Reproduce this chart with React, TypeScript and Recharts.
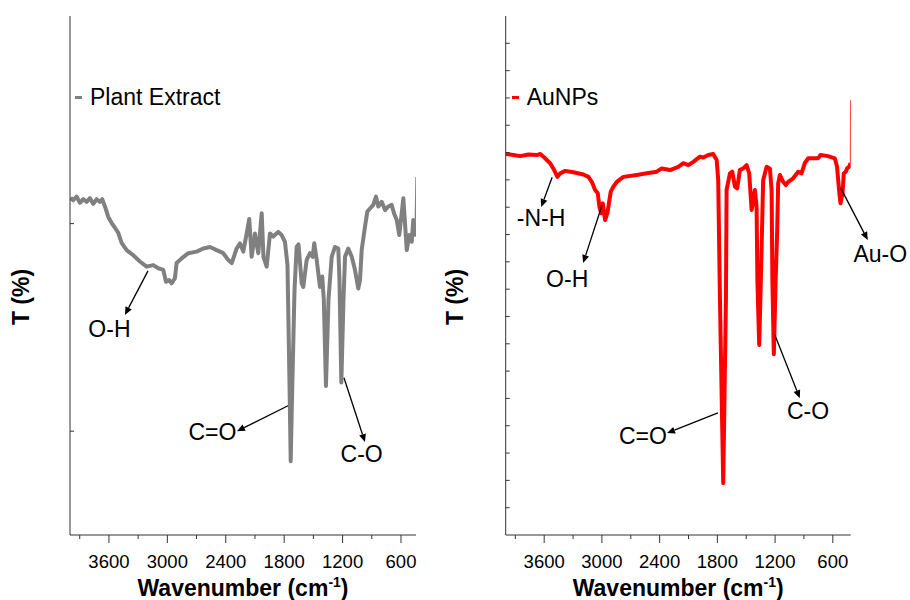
import React from 'react';
import { LineChart, Line, XAxis, YAxis, ReferenceLine, ReferenceDot, Legend } from 'recharts';

const FONT = '"Liberation Sans", Arial, Helvetica, sans-serif';
const AXIS = '#333333';

// ---------- Plant extract spectrum (wavenumber cm-1, transmittance a.u.) ----------
const extractWn = [3994, 3967, 3932, 3898, 3864, 3829, 3795, 3761, 3726, 3692, 3669, 3641, 3607, 3572, 3538, 3504, 3470, 3418, 3350, 3282, 3213, 3145, 3093, 3042, 3014, 2981, 2956, 2922, 2905, 2853, 2785, 2699, 2631, 2562, 2494, 2426, 2374, 2339, 2288, 2254, 2220, 2185, 2159, 2134, 2100, 2066, 2031, 2013, 1980, 1946, 1912, 1861, 1826, 1792, 1766, 1746, 1733, 1720, 1694, 1672, 1653, 1620, 1604, 1569, 1535, 1507, 1491, 1466, 1432, 1409, 1393, 1371, 1345, 1312, 1278, 1244, 1232, 1213, 1191, 1175, 1142, 1106, 1073, 1039, 1021, 1004, 970, 946, 918, 885, 857, 833, 798, 764, 731, 696, 672, 644, 618, 593, 576, 559, 541, 515, 490, 474, 456];
const extractT = [65.0, 64.5, 65.2, 64.0, 64.7, 64.2, 64.9, 63.8, 64.7, 64.2, 64.7, 63.3, 61.3, 60.1, 59.2, 58.2, 56.3, 54.9, 53.9, 52.7, 51.7, 52.0, 51.4, 51.1, 48.8, 49.1, 48.5, 49.5, 52.4, 53.3, 54.3, 54.6, 55.2, 55.5, 54.9, 54.3, 53.0, 52.4, 55.2, 56.2, 54.6, 58.1, 60.9, 53.6, 58.1, 54.3, 62.0, 53.6, 51.7, 58.1, 57.5, 58.4, 57.8, 56.5, 52.0, 29.9, 14.2, 26.0, 47.2, 55.5, 56.0, 48.5, 47.8, 53.0, 54.3, 53.6, 56.2, 53.0, 47.8, 49.8, 45.3, 28.7, 45.3, 53.6, 55.5, 55.2, 49.1, 29.4, 45.3, 53.6, 55.2, 53.6, 51.1, 47.5, 49.1, 54.9, 59.4, 62.3, 62.9, 63.6, 65.2, 63.3, 64.2, 62.6, 63.3, 63.6, 62.0, 60.7, 57.8, 62.0, 64.9, 60.1, 54.9, 57.8, 56.5, 60.7, 57.5];
const extractSpikeWn = [456, 446];
const extractSpikeT = [57.5, 69.0];

// ---------- AuNPs spectrum ----------
const aunpWn = [3998, 3919, 3849, 3763, 3676, 3641, 3590, 3538, 3496, 3462, 3434, 3382, 3296, 3192, 3140, 3105, 3071, 3043, 3026, 3008, 2991, 2967, 2943, 2922, 2908, 2881, 2845, 2777, 2638, 2534, 2430, 2378, 2292, 2206, 2154, 2102, 2050, 1981, 1946, 1894, 1843, 1807, 1791, 1773, 1739, 1711, 1704, 1669, 1645, 1617, 1594, 1566, 1531, 1496, 1469, 1444, 1427, 1410, 1392, 1384, 1365, 1348, 1324, 1288, 1254, 1236, 1228, 1213, 1194, 1178, 1168, 1150, 1116, 1088, 1064, 1012, 960, 925, 891, 857, 805, 753, 728, 649, 579, 556, 535, 520, 499, 486, 465, 452, 431, 416];
const aunpT = [13.95, 13.91, 13.87, 13.93, 13.91, 13.95, 13.79, 13.61, 13.36, 13.11, 13.24, 13.33, 13.28, 13.2, 13.11, 12.93, 12.63, 12.51, 12.02, 11.78, 12.14, 11.53, 11.78, 12.26, 12.57, 12.75, 12.93, 13.11, 13.18, 13.24, 13.3, 13.42, 13.36, 13.48, 13.61, 13.54, 13.66, 13.85, 13.82, 13.91, 13.95, 13.73, 12.99, 8.6, 1.9, 8.6, 12.63, 13.24, 13.3, 12.75, 12.69, 13.36, 13.42, 13.54, 13.24, 11.9, 12.26, 12.63, 12.02, 9.33, 6.96, 9.33, 12.99, 13.48, 13.42, 12.63, 9.33, 6.62, 9.33, 11.16, 12.87, 13.18, 12.93, 12.81, 12.93, 13.06, 13.3, 13.24, 13.61, 13.79, 13.79, 13.79, 13.91, 13.87, 13.79, 13.48, 12.63, 12.14, 12.51, 13.24, 13.3, 13.42, 13.48, 13.61];
const aunpSpikeWn = [416, 414];
const aunpSpikeT = [13.61, 15.92];

// ---------- Axes ----------
const xTicks = [3900, 3600, 3300, 3000, 2700, 2400, 2100, 1800, 1500, 1200, 900, 600];
const xTickLabels = [3600, 3000, 2400, 1800, 1200, 600];
const extractYTicks = [20, 60];
const aunpYTicks = [1, 2, 3, 4, 5, 6, 7, 8, 9, 10, 11, 12, 13, 14, 15, 16, 17, 18];

// ---------- Peak annotations: label, text position, arrow tail -> arrow head ----------
type Ann = { label: string; tx: number; ty: number; ax: number; ay: number; bx: number; by: number };
const extractAnns: Ann[] = [
  { label: 'O-H', tx: 3595, ty: 39.7, ax: 3199, ay: 50.9, bx: 3436, by: 42.4 },
  { label: 'C=O', tx: 2537, ty: 19.9, ax: 1761, ay: 24.9, bx: 2285, by: 20.0 },
  { label: 'C-O', tx: 1004, ty: 15.6, ax: 1186, ay: 30.3, bx: 970, by: 17.9 },
];
const aunpAnns: Ann[] = [
  { label: '-N-H', tx: 3633, ty: 11.6, ax: 3517, ay: 13.1, bx: 3631, by: 12.01 },
  { label: 'O-H', tx: 3361, ty: 9.37, ax: 2998, ay: 12.08, bx: 3195, by: 9.96 },
  { label: 'Au-O', tx: 107, ty: 10.29, ax: 517, ay: 12.7, bx: 237, by: 10.8 },
  { label: 'C=O', tx: 2574, ty: 3.62, ax: 1794, ay: 4.47, bx: 2323, by: 3.73 },
  { label: 'C-O', tx: 857, ty: 4.56, ax: 1202, ay: 7.32, bx: 943, by: 5.01 },
];

const XTick = (props: any) => {
  const { x, y, payload } = props;
  const major = xTickLabels.includes(payload.value);
  return (
    <g>
      <line x1={x} x2={x} y1={y} y2={y + (major ? 8 : 4)} stroke={AXIS} strokeWidth={1} />
      {major && (
        <text x={x} y={y + 33} textAnchor="middle" fontFamily={FONT} fontSize={18.5} fill="#000">
          {payload.value}
        </text>
      )}
    </g>
  );
};

const YTick = (props: any) => {
  const { x, y } = props;
  return <line x1={x} x2={x + 4} y1={y} y2={y} stroke={AXIS} strokeWidth={1} />;
};

const Arrow = (p: any) => {
  const { x1, y1, x2, y2 } = p;
  const ang = Math.atan2(y2 - y1, x2 - x1);
  const L = 8;
  const W = 3.5;
  const bx = x2 - L * Math.cos(ang);
  const by = y2 - L * Math.sin(ang);
  const pts = `${x2},${y2} ${bx - W * Math.sin(ang)},${by + W * Math.cos(ang)} ${bx + W * Math.sin(ang)},${by - W * Math.cos(ang)}`;
  return (
    <g>
      <line x1={x1} y1={y1} x2={bx} y2={by} stroke="#000" strokeWidth={1.3} />
      <polygon points={pts} fill="#000" />
    </g>
  );
};

type PanelProps = {
  name: string;
  color: string;
  wn: number[];
  t: number[];
  spikeWn: number[];
  spikeT: number[];
  domainMin: number;
  yMax: number;
  yTicks: number[];
  anns: Ann[];
  width: number;
  yAxisWidth: number;
  marginRight: number;
  legendLeft: number;
  yLabelX: number;
};

function Panel(p: PanelProps) {
  const data = p.wn.map((w, i) => ({ wn: w, t: p.t[i] }));
  const spike = p.spikeWn.map((w, i) => ({ wn: w, t: p.spikeT[i] }));

  const renderXLabel = (lp: any) => {
    const vb = lp.viewBox || {};
    return (
      <text x={vb.x + vb.width / 2} y={vb.y + 61} textAnchor="middle" fontFamily={FONT} fontSize={23} fontWeight="bold" fill="#000">
        <tspan>Wavenumber (cm</tspan>
        <tspan fontSize={14} dy={-9}>-1</tspan>
        <tspan dy={9}>)</tspan>
      </text>
    );
  };
  const renderYLabel = (lp: any) => {
    const vb = lp.viewBox || {};
    const cx = vb.x + p.yLabelX + 8;
    const cy = vb.y + vb.height / 2 + 21.5;
    return (
      <text transform={`translate(${cx},${cy}) rotate(-90)`} x={0} y={0} textAnchor="middle" fontFamily={FONT} fontSize={23} fontWeight="bold" fill="#000">
        T (%)
      </text>
    );
  };
  const renderLegend = () => (
    <div style={{ display: 'flex', alignItems: 'center', fontFamily: FONT, fontSize: 23, lineHeight: '26px', whiteSpace: 'nowrap', color: '#000' }}>
      <span style={{ display: 'inline-block', width: 7, height: 3, background: p.color, marginRight: 8 }} />
      {p.name}
    </div>
  );

  return (
    <LineChart width={p.width} height={600} data={data} margin={{ top: 16, right: p.marginRight, bottom: 0, left: 0 }}>
      <XAxis
        dataKey="wn"
        type="number"
        domain={[p.domainMin, 4000]}
        reversed
        allowDataOverflow
        ticks={xTicks}
        interval={0}
        tickSize={0}
        tickMargin={0}
        tickLine={false}
        tick={(tp: any) => <XTick {...tp} />}
        height={65}
        stroke={AXIS}
        label={renderXLabel}
      />
      <YAxis
        type="number"
        domain={[0, p.yMax]}
        allowDataOverflow
        ticks={p.yTicks}
        interval={0}
        tickSize={0}
        tickMargin={0}
        tickLine={false}
        tick={(tp: any) => <YTick {...tp} />}
        width={p.yAxisWidth}
        stroke={AXIS}
        label={renderYLabel}
      />
      <Legend
        content={renderLegend}
        layout="horizontal"
        verticalAlign="middle"
        align="center"
        wrapperStyle={{ position: 'absolute', left: p.legendLeft, top: 84, width: 'auto', height: 26 }}
      />
      <Line
        dataKey="t"
        name={p.name}
        type="linear"
        stroke={p.color}
        strokeWidth={4}
        strokeLinejoin="round"
        dot={false}
        activeDot={false}
        isAnimationActive={false}
      />
      <Line
        data={spike}
        dataKey="t"
        name={p.name + ' end'}
        legendType="none"
        type="linear"
        stroke={p.color}
        strokeWidth={1.3}
        dot={false}
        activeDot={false}
        isAnimationActive={false}
      />
      {p.anns.map((a) => (
        <ReferenceLine
          key={'l' + a.label}
          segment={[{ x: a.ax, y: a.ay }, { x: a.bx, y: a.by }]}
          ifOverflow="visible"
          shape={(sp: any) => <Arrow {...sp} />}
        />
      ))}
      {p.anns.map((a) => (
        <ReferenceDot
          key={'t' + a.label}
          x={a.tx}
          y={a.ty}
          r={0}
          ifOverflow="visible"
          shape={(dp: any) => (
            <text x={dp.cx} y={dp.cy + 8.2} textAnchor="middle" fontFamily={FONT} fontSize={23} fill="#000">
              {a.label}
            </text>
          )}
        />
      ))}
    </LineChart>
  );
}

export default function App() {
  return (
    <div style={{ position: 'absolute', left: 0, top: 0, width: 910, height: 600, background: '#fff', overflow: 'hidden' }}>
      <div style={{ position: 'absolute', left: 0, top: 0 }}>
        <Panel
          name="Plant Extract"
          color="#808080"
          wn={extractWn}
          t={extractT}
          spikeWn={extractSpikeWn}
          spikeT={extractSpikeT}
          domainMin={446}
          yMax={100}
          yTicks={extractYTicks}
          anns={extractAnns}
          width={430}
          yAxisWidth={70}
          marginRight={14}
          legendLeft={75}
          yLabelX={21}
        />
      </div>
      <div style={{ position: 'absolute', left: 430, top: 0 }}>
        <Panel
          name="AuNPs"
          color="#ff0000"
          wn={aunpWn}
          t={aunpT}
          spikeWn={aunpSpikeWn}
          spikeT={aunpSpikeT}
          domainMin={414}
          yMax={19}
          yTicks={aunpYTicks}
          anns={aunpAnns}
          width={480}
          yAxisWidth={75.7}
          marginRight={59.3}
          legendLeft={81.7}
          yLabelX={25}
        />
      </div>
    </div>
  );
}
